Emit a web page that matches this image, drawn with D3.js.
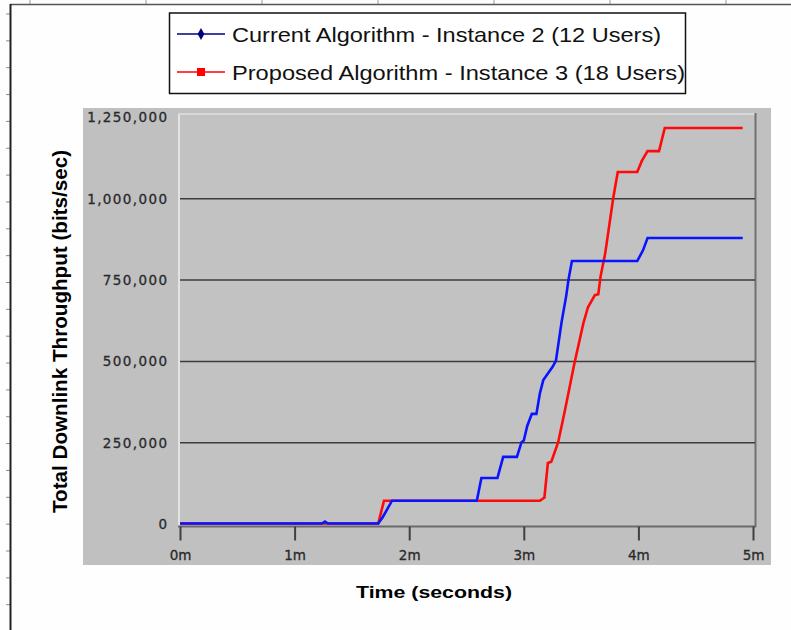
<!DOCTYPE html>
<html>
<head>
<meta charset="utf-8">
<script src="https://cdn.jsdelivr.net/npm/d3@7"></script>
<style>
  html, body { margin: 0; padding: 0; background: #ffffff; }
  svg { display: block; }
</style>
</head>
<body>
<svg id="chart" width="791" height="630"></svg>
<script>
// ---- Data (time in minutes, throughput in bits/sec) ----
const seriesNames = [
  "Current Algorithm - Instance 2 (12 Users)",
  "Proposed Algorithm - Instance 3 (18 Users)"
];
const currentTime = [0, 1.24, 1.265, 1.29, 1.73, 1.77, 1.85, 2.59, 2.63, 2.77, 2.82, 2.94, 2.98, 3.00, 3.03, 3.07, 3.11, 3.14, 3.17, 3.25, 3.28, 3.33, 3.37, 3.39, 3.42, 3.99, 4.04, 4.08, 4.91];
const currentValue = [0, 0, 6000, 0, 0, 20000, 70000, 70000, 140000, 140000, 205000, 205000, 250000, 255000, 300000, 337000, 337000, 400000, 441000, 481000, 500000, 620000, 700000, 750000, 807000, 807000, 840000, 878000, 878000];
const proposedTime = [0, 1.73, 1.78, 3.14, 3.18, 3.21, 3.24, 3.30, 3.36, 3.40, 3.44, 3.52, 3.56, 3.62, 3.65, 3.67, 3.71, 3.78, 3.82, 3.99, 4.03, 4.08, 4.18, 4.23, 4.91];
const proposedValue = [0, 0, 70000, 70000, 80000, 186000, 190000, 250000, 350000, 420000, 490000, 616000, 665000, 702000, 705000, 760000, 830000, 1000000, 1081000, 1081000, 1115000, 1145000, 1145000, 1216000, 1216000];
const xTicks = [0, 1, 2, 3, 4, 5];
const xTickLabels = ["0m", "1m", "2m", "3m", "4m", "5m"];
const yTicks = [0, 250000, 500000, 750000, 1000000, 1250000];
const yTickLabels = ["0", "250,000", "500,000", "750,000", "1,000,000", "1,250,000"];
const xTitle = "Time (seconds)";
const yTitle = "Total Downlink Throughput (bits/sec)";

// ---- Layout ----
const svg = d3.select("#chart");
const plot = { left: 178, right: 756, top: 113, bottom: 527 };
const x = d3.scaleLinear().domain([0, 5]).range([180, 753]);
const y = d3.scaleLinear().domain([0, 1250000]).range([523.5, 117]);

// Page frame (ruler-like border)
svg.append("rect").attr("x", 0).attr("y", 0).attr("width", 791).attr("height", 630).attr("fill", "#fefefe");
const topRuler = d3.scaleLinear().domain([0, 1]).range([30, 146]);
svg.append("g").selectAll("line").data(d3.range(0, 7)).join("line")
  .attr("x1", d => topRuler(d)).attr("x2", d => topRuler(d))
  .attr("y1", 0).attr("y2", 4).attr("stroke", "#9a9a9a").attr("stroke-width", 1);
const leftRuler = d3.scaleLinear().domain([0, 1]).range([14, 40.85]);
svg.append("g").selectAll("line").data(d3.range(0, 24)).join("line")
  .attr("x1", 6).attr("x2", 10)
  .attr("y1", d => leftRuler(d)).attr("y2", d => leftRuler(d))
  .attr("stroke", "#8a8a8a").attr("stroke-width", 1);
svg.append("line").attr("x1", 10).attr("x2", 791).attr("y1", 4.5).attr("y2", 4.5)
  .attr("stroke", "#555").attr("stroke-width", 1.5);
svg.append("line").attr("x1", 10.5).attr("x2", 10.5).attr("y1", 4).attr("y2", 630)
  .attr("stroke", "#222").attr("stroke-width", 2);

// Gray chart panel
svg.append("rect").attr("x", 83).attr("y", 108).attr("width", 688).attr("height", 457).attr("fill", "#c0c0c0");
svg.append("rect").attr("x", plot.left).attr("y", plot.top)
  .attr("width", plot.right - plot.left).attr("height", plot.bottom - plot.top).attr("fill", "#c2c2c2");
// bevel
svg.append("line").attr("x1", plot.left + 1).attr("x2", plot.left + 1).attr("y1", plot.top).attr("y2", plot.bottom)
  .attr("stroke", "#e4e4e4").attr("stroke-width", 2);
svg.append("line").attr("x1", plot.left).attr("x2", plot.right).attr("y1", plot.top + 1).attr("y2", plot.top + 1)
  .attr("stroke", "#d8d8d8").attr("stroke-width", 2);
svg.append("line").attr("x1", plot.right - 0.5).attr("x2", plot.right - 0.5).attr("y1", plot.top).attr("y2", plot.bottom)
  .attr("stroke", "#707070").attr("stroke-width", 2);

// Gridlines
const grid = svg.append("g").attr("transform", `translate(${plot.right - 1},0)`)
  .call(d3.axisLeft(y).tickValues(yTicks.filter(v => v > 0 && v < 1250000)).tickSize(plot.right - 181).tickFormat(""));
grid.select(".domain").remove();
grid.selectAll(".tick line").attr("stroke", "#3c3c3c").attr("stroke-width", 1.5);

// Y axis labels
const yAxis = svg.append("g").attr("transform", "translate(180,0)")
  .call(d3.axisLeft(y).tickValues(yTicks).tickSize(0).tickPadding(10)
    .tickFormat((d, i) => yTickLabels[i]));
yAxis.select(".domain").remove();
yAxis.selectAll("text")
  .attr("font-family", "DejaVu Sans, Verdana, sans-serif")
  .attr("font-size", 13.5).attr("fill", "#2a2a2a")
  .attr("stroke", "#2a2a2a").attr("stroke-width", 0.3)
  .attr("letter-spacing", "1.4px").attr("x", -11.5).attr("dy", "0.36em");

// X axis
const xAxis = svg.append("g").attr("transform", `translate(0,${plot.bottom - 0.5})`)
  .call(d3.axisBottom(x).tickValues(xTicks).tickSize(14).tickFormat((d, i) => xTickLabels[i]));
xAxis.select(".domain").attr("d", `M${plot.left},0H${plot.right}`).attr("stroke", "#6a6a6a").attr("stroke-width", 2);
xAxis.selectAll(".tick line").attr("stroke", "#404040").attr("stroke-width", 2);
xAxis.selectAll("text")
  .attr("font-family", "DejaVu Sans, Verdana, sans-serif")
  .attr("font-size", 13.5).attr("fill", "#2a2a2a")
  .attr("stroke", "#2a2a2a").attr("stroke-width", 0.3)
  .attr("y", 33).attr("dy", 0);

// Series lines
const line = d3.line().x(d => x(d[0])).y(d => y(d[1]));
const proposed = proposedTime.map((t, i) => [t, proposedValue[i]]);
const current = currentTime.map((t, i) => [t, currentValue[i]]);
svg.append("path").datum(proposed).attr("d", line)
  .attr("fill", "none").attr("stroke", "#ff0a0a").attr("stroke-width", 2.6);
svg.append("path").datum(current).attr("d", line)
  .attr("fill", "none").attr("stroke", "#0a14ff").attr("stroke-width", 2.6);

// Axis titles
svg.append("text").attr("x", 434).attr("y", 597.5)
  .attr("text-anchor", "middle")
  .attr("font-family", "Liberation Sans, Arial, sans-serif").attr("font-weight", "bold")
  .attr("font-size", 17).attr("fill", "#000")
  .attr("textLength", 156).attr("lengthAdjust", "spacingAndGlyphs")
  .text(xTitle);
svg.append("text")
  .attr("transform", "translate(67,331.5) rotate(-90)")
  .attr("text-anchor", "middle")
  .attr("font-family", "Liberation Sans, Arial, sans-serif").attr("font-weight", "bold")
  .attr("font-size", 20).attr("fill", "#000")
  .attr("textLength", 363).attr("lengthAdjust", "spacingAndGlyphs")
  .text(yTitle);

// Legend
const legend = svg.append("g");
legend.append("rect").attr("x", 169.5).attr("y", 13).attr("width", 516).attr("height", 80.5)
  .attr("fill", "#ffffff").attr("stroke", "#111").attr("stroke-width", 1.5);
const legendColors = ["#000080", "#ff0000"];
const legendRows = [34, 72];
const textLengths = [429, 453];
seriesNames.forEach((name, i) => {
  const g = legend.append("g").attr("transform", `translate(0,${legendRows[i]})`);
  g.append("line").attr("x1", 177).attr("x2", 225).attr("y1", 0).attr("y2", 0)
    .attr("stroke", legendColors[i]).attr("stroke-width", 1.3);
  if (i === 0) {
    g.append("path").attr("d", d3.symbol(d3.symbolDiamond, 40)())
      .attr("transform", "translate(201,0)").attr("fill", legendColors[i]);
  } else {
    g.append("rect").attr("x", 197).attr("y", -4).attr("width", 8).attr("height", 8)
      .attr("fill", legendColors[i]);
  }
  g.append("text").attr("x", 232).attr("y", 7.5)
    .attr("font-family", "Liberation Sans, Arial, sans-serif").attr("font-size", 21)
    .attr("fill", "#111")
    .attr("textLength", textLengths[i]).attr("lengthAdjust", "spacingAndGlyphs")
    .text(name);
});
</script>
</body>
</html>
